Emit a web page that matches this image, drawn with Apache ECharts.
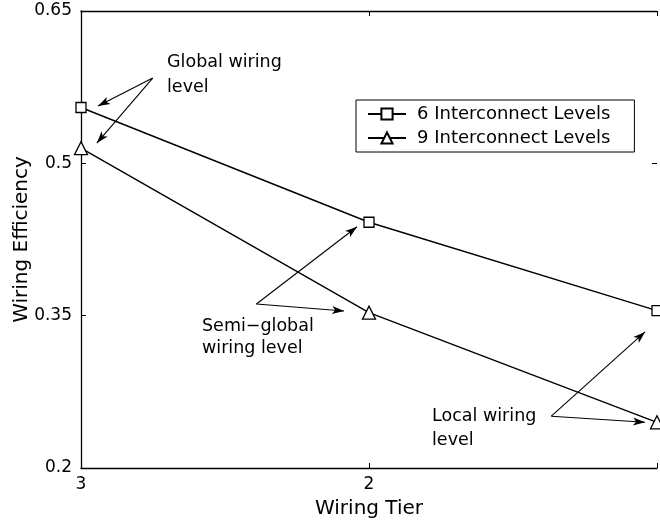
<!DOCTYPE html>
<html>
<head>
<meta charset="utf-8">
<script src="https://cdn.jsdelivr.net/npm/echarts@6/dist/echarts.min.js"></script>
<style>html,body{margin:0;padding:0;background:#fff;}#c{width:660px;height:525px;}</style>
</head>
<body>
<div id="c"></div>
<script>
// ---- data ----
var tiers = [3, 2, 1];
var seriesNames = ['6 Interconnect Levels', '9 Interconnect Levels'];
var eff6 = [0.555, 0.442, 0.355];
var eff9 = [0.515, 0.353, 0.245];
var yTicks = [0.2, 0.35, 0.5, 0.65];
var xTicks = [3, 2, 1];
var xTickLabels = ['3', '2', ''];
// annotation arrows: [from, to] in data coordinates
var arrows = [
  [[2.751, 0.584], [2.941, 0.5565]],
  [[2.751, 0.584], [2.945, 0.520]],
  [[2.391, 0.3615], [2.0415, 0.4375]],
  [[2.391, 0.3615], [2.0865, 0.3546]],
  [[1.367, 0.251], [1.0415, 0.334]],
  [[1.367, 0.251], [1.0415, 0.245]]
];

var FONT = 'DejaVu Sans';
var chart = echarts.init(document.getElementById('c'), null, {renderer: 'canvas'});

function pairs(xs, ys) { return xs.map(function (x, i) { return [x, ys[i]]; }); }

var option = {
  animation: false,
  backgroundColor: '#fff',
  textStyle: {fontFamily: FONT, color: '#000'},
  grid: {left: 81, top: 11, right: 3, bottom: 57, containLabel: false, outerBoundsMode: 'none'},
  legend: {
    left: 356, top: 100, orient: 'vertical',
    data: seriesNames,
    borderColor: '#000', borderWidth: 1, borderRadius: 0,
    padding: [5, 24, 5, 11],
    itemWidth: 38, itemHeight: 14, itemGap: 6,
    textStyle: {fontFamily: FONT, fontSize: 18, color: '#000', padding: [0, 0, 0, 6]}
  },
  xAxis: [{
    type: 'value', min: 1, max: 3, inverse: true,
    name: 'Wiring Tier', nameLocation: 'middle', nameGap: 31, nameMoveOverlap: false,
    nameTextStyle: {fontFamily: FONT, fontSize: 20, color: '#000'},
    axisLine: {lineStyle: {color: '#000', width: 1.3}},
    axisTick: {inside: true, length: 5, lineStyle: {color: '#000'}, customValues: xTicks},
    axisLabel: {fontFamily: FONT, fontSize: 17, color: '#000', margin: 8,
      customValues: xTicks,
      formatter: function (v) { return xTickLabels[xTicks.indexOf(v)]; }},
    splitLine: {show: false}
  }, {
    type: 'value', min: 1, max: 3, inverse: true, position: 'top',
    axisLine: {show: true, onZero: false, lineStyle: {color: '#000', width: 1.3}},
    axisTick: {inside: true, length: 5, lineStyle: {color: '#000'}, customValues: xTicks},
    axisLabel: {show: false},
    splitLine: {show: false}
  }],
  yAxis: [{
    type: 'value', min: 0.2, max: 0.65,
    name: 'Wiring Efficiency', nameLocation: 'middle', nameGap: 49, nameMoveOverlap: false,
    nameTextStyle: {fontFamily: FONT, fontSize: 20, color: '#000'},
    axisLine: {show: true, lineStyle: {color: '#000', width: 1.3}},
    axisTick: {show: true, inside: true, length: 5, lineStyle: {color: '#000'}, customValues: yTicks},
    axisLabel: {fontFamily: FONT, fontSize: 17, color: '#000', margin: 9,
      customValues: yTicks,
      formatter: function (v) { return String(+v.toFixed(2)); }},
    splitLine: {show: false}
  }, {
    type: 'value', min: 0.2, max: 0.65, position: 'right',
    axisLine: {show: false},
    axisTick: {show: true, inside: true, length: 5, lineStyle: {color: '#000'}, customValues: yTicks},
    axisLabel: {show: false},
    splitLine: {show: false}
  }],
  series: [{
    name: seriesNames[0], type: 'line',
    data: pairs(tiers, eff6),
    symbol: 'rect', symbolSize: 10, showAllSymbol: true,
    lineStyle: {color: '#000', width: 1.4},
    itemStyle: {color: '#fff', borderColor: '#000', borderWidth: 1.3},
    emphasis: {disabled: true},
    markLine: {
      silent: true, animation: false,
      symbol: ['none', 'arrow'], symbolSize: [6, 12],
      label: {show: false},
      lineStyle: {color: '#000', width: 1.1, type: 'solid'},
      emphasis: {disabled: true},
      data: arrows.map(function (a) { return [{coord: a[0]}, {coord: a[1]}]; })
    }
  }, {
    name: seriesNames[1], type: 'line',
    data: pairs(tiers, eff9),
    symbol: 'triangle', symbolSize: 13, showAllSymbol: true,
    lineStyle: {color: '#000', width: 1.4},
    itemStyle: {color: '#fff', borderColor: '#000', borderWidth: 1.3},
    emphasis: {disabled: true}
  }],
  graphic: [
    {type: 'text', left: 167, top: 50, silent: true,
      style: {text: 'Global wiring\nlevel', font: '17.5px "DejaVu Sans"', lineHeight: 25, fill: '#000'}},
    {type: 'text', left: 202, top: 315, silent: true,
      style: {text: 'Semi\u2212global\nwiring level', font: '17.5px "DejaVu Sans"', lineHeight: 22, fill: '#000'}},
    {type: 'text', left: 432, top: 404, silent: true,
      style: {text: 'Local wiring\nlevel', font: '17.5px "DejaVu Sans"', lineHeight: 24, fill: '#000'}}
  ]
};
chart.setOption(option);
</script>
</body>
</html>
